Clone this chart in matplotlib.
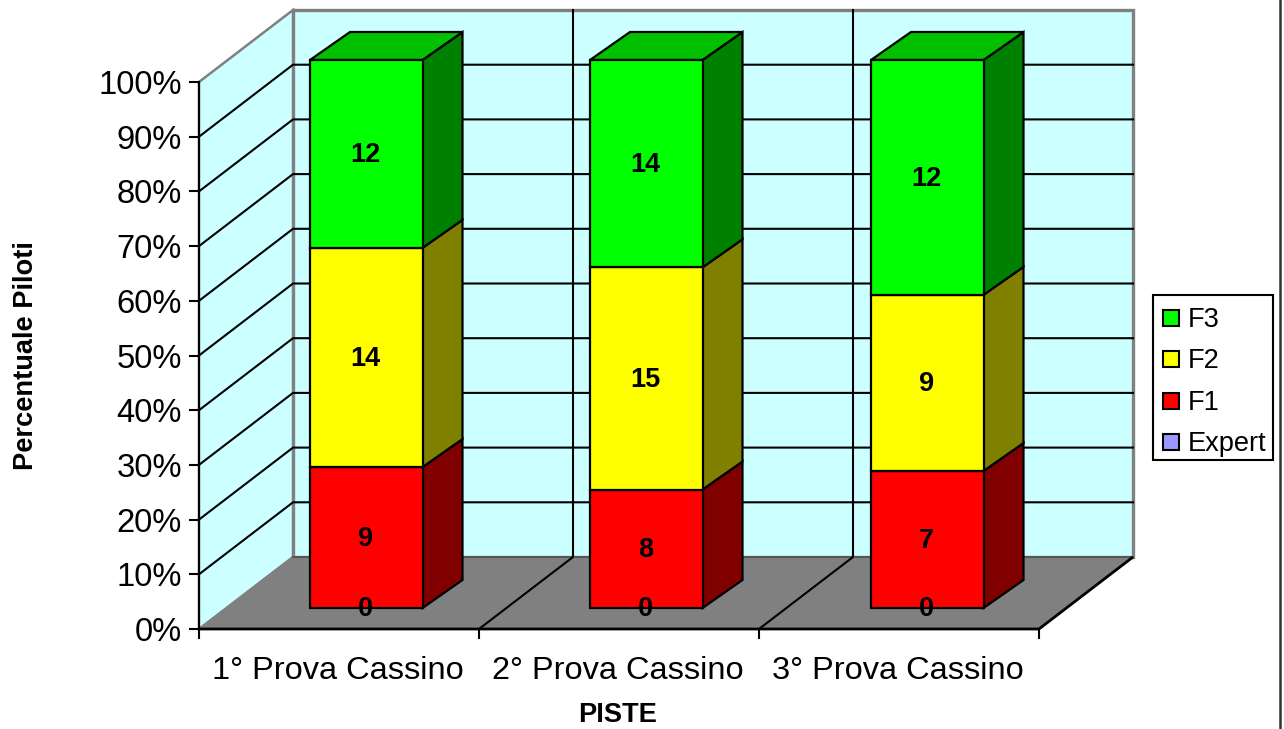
import numpy as np
import matplotlib
matplotlib.use('Agg')
import matplotlib.pyplot as plt
from matplotlib.patches import Polygon, Rectangle

plt.rcParams['font.family'] = ['Liberation Sans', 'DejaVu Sans']

categories = ['1° Prova Cassino', '2° Prova Cassino', '3° Prova Cassino']
series_names = ['Expert', 'F1', 'F2', 'F3']
expert = [0, 0, 0]
f1 = [9, 8, 7]
f2 = [14, 15, 9]
f3 = [12, 14, 12]
y_ticks = [0, 10, 20, 30, 40, 50, 60, 70, 80, 90, 100]

front_colors = ['#9999ff', '#ff0000', '#ffff00', '#00ff00']
side_colors = ['#4c4c80', '#800000', '#808000', '#008000']
top_colors = ['#7a7acc', '#cc0000', '#cccc00', '#00c000']

# pixel layout of the fake 3d box
left, right = 199, 1039
floor_y, top_y = 629, 82
dx, dy = 94, -72
bar_base, bar_top = 608, 60
bar_w, bar_dx, bar_dy = 112.5, 40, -28
slot = (right - left) / len(categories)
wall = '#ccffff'
grey = '#808080'

fig = plt.figure(figsize=(12.84, 7.29), dpi=100)
ax = fig.add_axes([0, 0, 1, 1])
ax.set_xlim(0, 1284)
ax.set_ylim(729, 0)
ax.axis('off')


def poly(pts, fc, ec='black', lw=1.6, z=1):
    ax.add_patch(Polygon(pts, closed=True, fc=fc, ec=ec, lw=lw, zorder=z, joinstyle='miter'))


def ypos(pct):
    return floor_y - (floor_y - top_y) * pct / 100


# walls and floor
poly([(left + dx, floor_y + dy), (right + dx, floor_y + dy), (right + dx, top_y + dy),
      (left + dx, top_y + dy)], wall, grey, 2.4)
poly([(left, floor_y), (left + dx, floor_y + dy), (left + dx, top_y + dy), (left, top_y)], wall, grey, 1.8)
poly([(left, floor_y), (right, floor_y), (right + dx, floor_y + dy), (left + dx, floor_y + dy)], grey, grey, 1)
ax.plot([left + dx, right + dx], [floor_y + dy, floor_y + dy], color='#555555', lw=1.4, zorder=1.5)

# gridlines
for t in y_ticks[1:-1]:
    y = ypos(t)
    ax.plot([left, left + dx, right + dx], [y, y + dy, y + dy], color='black', lw=1.5, zorder=2)
y = ypos(100)
ax.plot([left, left], [floor_y, y], color='black', lw=1.5, zorder=2)
for i in range(1, len(categories)):
    x = left + slot * i
    ax.plot([x, x + dx, x + dx], [floor_y, floor_y + dy, top_y + dy], color='black', lw=1.5, zorder=2)

# front axis and ticks
ax.plot([left, right, right + dx], [floor_y, floor_y, floor_y + dy], color='black', lw=2.0, zorder=2,
        solid_capstyle='butt')
for t in y_ticks:
    y = ypos(t)
    ax.plot([left - 9, left], [y, y], color='black', lw=1.5, zorder=2)
    ax.text(left - 17, y + 3.5, '%d%%' % t, ha='right', va='center', fontsize=23.6, color='black')
for i in range(len(categories) + 1):
    x = left + slot * i
    ax.plot([x, x], [floor_y, floor_y + 9], color='black', lw=1.5, zorder=2)

# stacked bars, normalised to 100%
values = np.array([expert, f1, f2, f3], dtype=float)
shares = values / values.sum(axis=0)
bar_x = [310, 590, 871]
for c in range(len(categories)):
    x0 = bar_x[c]
    x1 = x0 + bar_w
    bottom = 0
    for s in range(len(series_names)):
        y0 = bar_base - (bar_base - bar_top) * bottom
        y1 = bar_base - (bar_base - bar_top) * (bottom + shares[s, c])
        if values[s, c] > 0:
            poly([(x1, y0), (x1 + bar_dx, y0 + bar_dy), (x1 + bar_dx, y1 + bar_dy), (x1, y1)],
                 side_colors[s], z=3)
            poly([(x0, y0), (x1, y0), (x1, y1), (x0, y1)], front_colors[s], z=4)
            if s == len(series_names) - 1:
                poly([(x0, y1), (x1, y1), (x1 + bar_dx, y1 + bar_dy), (x0 + bar_dx, y1 + bar_dy)],
                     top_colors[s], z=3)
        ax.text((x0 + x1) / 2 - 1, (y0 + y1) / 2 + 1.5, '%d' % values[s, c], ha='center', va='center',
                fontsize=19.5, fontweight='bold', color='black', zorder=6)
        bottom += shares[s, c]
    ax.text(left + slot * (c + 0.5) - 1, 671, categories[c], ha='center', va='center',
            fontsize=23.4, color='black')

# axis titles
ax.text(26, 356, 'Percentuale Piloti', rotation=90, ha='center', va='center', fontsize=19.6, fontweight='bold')
ax.text(618, 715, 'PISTE', ha='center', va='center', fontsize=19.6, fontweight='bold')

# legend
ax.add_patch(Rectangle((1153, 295), 120, 165, fc='white', ec='black', lw=1.5, zorder=2))
legend_y = [442, 401, 359, 318]
for s, name in enumerate(series_names):
    ax.add_patch(Rectangle((1163, legend_y[s] - 8), 16, 16, fc=front_colors[s], ec='black', lw=1.5, zorder=3))
    ax.text(1188, legend_y[s] + 2, name, ha='left', va='center', fontsize=19.6, color='black', zorder=3)

# right edge of the chart frame
ax.plot([1280, 1280], [0, 729], color='#333333', lw=1.8)

fig.savefig('out.png', dpi=100)
